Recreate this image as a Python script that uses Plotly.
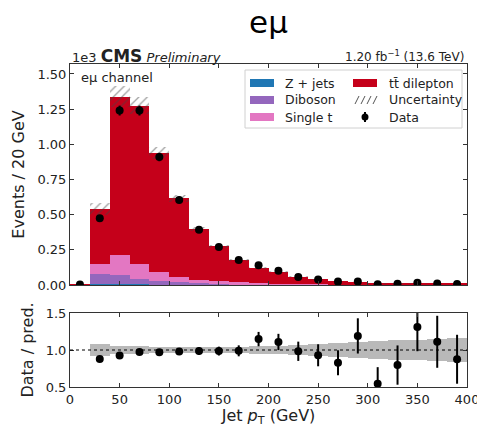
import numpy as np
import plotly.graph_objects as go

# ---- data (events per 20 GeV bin) ----
bin_edges = list(range(0, 420, 20))
zjets    = [1, 8, 6, 4, 3, 2, 2, 1, 1, 1, 1, 0.5, 0.5, 0.4, 0.3, 0.2, 0.2, 0.2, 0.1, 0.1]
diboson  = [1, 68, 64, 36, 25, 16, 10, 7, 5, 4, 3, 2, 1.5, 1, 0.8, 0.5, 0.5, 0.4, 0.3, 0.3]
single_t = [1, 76, 144, 108, 65, 39, 25, 17, 12, 9, 6, 4, 3, 2, 1.5, 1, 1, 0.8, 0.6, 0.5]
ttbar    = [2, 388, 1124, 1128, 845, 560, 361, 249, 162, 108, 82, 51.5, 37, 25.6, 18.4, 9.3, 9.6, 10.8, 8, 7.1]
data     = [4, 475, 1240, 1240, 910, 605, 392, 270, 178, 140, 102, 57, 39, 24, 25, 6, 9, 16, 10, 7]
rel_unc  = [0.10, 0.08, 0.055, 0.05, 0.045, 0.04, 0.04, 0.04, 0.045, 0.05, 0.06, 0.07, 0.08, 0.09,
            0.11, 0.12, 0.13, 0.14, 0.15, 0.16]

edges = np.array(bin_edges, dtype=float)
centers = 0.5 * (edges[:-1] + edges[1:])
widths = np.diff(edges)
scale = 1e3

comps = [("Z + jets", zjets, "#1f77b4"),
         ("Diboson", diboson, "#9467bd"),
         ("Single t", single_t, "#e377c2"),
         ("tt̄ dilepton", ttbar, "#c5001a")]

total = np.sum([np.array(c[1], float) for c in comps], axis=0)
unc = np.array(rel_unc) * total
d = np.array(data, float)
derr = np.sqrt(d)

fig = go.Figure()
for name, vals, col in comps:
    fig.add_trace(go.Bar(x=centers, y=np.array(vals) / scale, width=widths, name=name,
                         marker=dict(color=col, line=dict(width=0)), showlegend=False,
                         xaxis="x", yaxis="y"))
# uncertainty hatch
fig.add_trace(go.Bar(x=centers, y=2 * unc / scale, base=(total - unc) / scale, width=widths,
                     marker=dict(color="rgba(0,0,0,0)", line=dict(width=0),
                                 pattern=dict(shape="/", fgcolor="#444", size=6, solidity=0.22)),
                     showlegend=False, xaxis="x", yaxis="y"))
fig.add_trace(go.Scatter(x=centers, y=d / scale, mode="markers",
                         marker=dict(color="black", size=8),
                         error_y=dict(type="data", array=derr / scale, color="black", thickness=2, width=0),
                         showlegend=False, xaxis="x", yaxis="y"))

# ratio panel
mask = slice(1, None)
fig.add_trace(go.Bar(x=centers[mask], y=2 * np.array(rel_unc)[mask], base=1 - np.array(rel_unc)[mask],
                     width=widths[mask], marker=dict(color="#b9b9b9", line=dict(width=0)),
                     showlegend=False, xaxis="x2", yaxis="y2"))
ratio = d / total
rerr = derr / total
fig.add_trace(go.Scatter(x=centers[mask], y=ratio[mask], mode="markers",
                         marker=dict(color="black", size=8),
                         error_y=dict(type="data", array=rerr[mask], color="black", thickness=2, width=0),
                         showlegend=False, xaxis="x2", yaxis="y2", cliponaxis=True))

W, H = 477, 427
ml, mr, mt, mb = 70, 10, 64, 40
pw, ph = W - ml - mr, H - mt - mb
def px(x): return (x - ml) / pw
def py(y): return (H - mb - y) / ph

font = "DejaVu Sans"
axcol = "#333"
common_x = dict(range=[0, 400], tickvals=list(range(0, 401, 50)), ticks="inside", ticklen=4,
                showline=True, linecolor=axcol, linewidth=1, mirror="allticks", tickcolor=axcol,
                showgrid=False, zeroline=False, ticklabeloverflow="allow", automargin=False)
common_y = dict(ticks="inside", ticklen=4, showline=True, linecolor=axcol, mirror="allticks",
                tickcolor=axcol, showgrid=False, zeroline=False, automargin=False)
fig.update_layout(
    width=W, height=H, margin=dict(l=ml, r=mr, t=mt, b=mb, autoexpand=False),
    paper_bgcolor="white", plot_bgcolor="white", barmode="stack", bargap=0,
    font=dict(family=font, size=13, color="#222"),
    title=dict(text="eμ", x=0.5, xref="paper", y=1 - 22 / H, yanchor="middle",
               font=dict(size=31, color="black", family=font)),
    xaxis=dict(domain=[0, 1], anchor="y", showticklabels=False, matches="x2", **common_x),
    yaxis=dict(domain=[py(285), 1], range=[0, 1.571], tickvals=[0, 0.25, 0.5, 0.75, 1.0, 1.25, 1.5],
               tickformat=".2f", title=dict(text="Events / 20 GeV", standoff=8), **common_y),
    xaxis2=dict(domain=[0, 1], anchor="y2", title=dict(text="Jet <i>p</i><sub>T</sub> (GeV)", standoff=4),
                **common_x),
    yaxis2=dict(domain=[0, py(313)], range=[0.5, 1.5], tickvals=[0.5, 1.0, 1.5], tickformat=".1f",
                title=dict(text="Data / pred.", standoff=8), **common_y),
)

fig.add_shape(type="line", xref="x2", yref="y2", x0=0, x1=400, y0=1, y1=1,
              line=dict(color="black", width=1, dash="dot"))

ann = []
ann.append(dict(text="1e3 <span style='font-size:17px'><b>CMS</b></span> <i>Preliminary</i>",
                x=px(70), y=py(56), xanchor="left", yanchor="middle", font=dict(size=13, color="#222")))
ann.append(dict(text="1.20 fb<sup>−1</sup> (13.6 TeV)", x=px(466), y=py(56), xanchor="right",
                yanchor="middle", font=dict(size=12, color="#222")))
ann.append(dict(text="eμ channel", x=px(79), y=py(78), xanchor="left", yanchor="middle",
                font=dict(size=13, color="#222")))

# manual legend
shapes = []
shapes.append(dict(type="rect", xref="paper", yref="paper", x0=px(245), x1=px(462), y0=py(128), y1=py(70),
                   line=dict(color="#d0d0d0", width=1), fillcolor="rgba(255,255,255,0.85)"))
rows = [83, 100, 117]
col1 = [("Z + jets", "#1f77b4"), ("Diboson", "#9467bd"), ("Single t", "#e377c2")]
for (lab, c), yy in zip(col1, rows):
    shapes.append(dict(type="rect", xref="paper", yref="paper", x0=px(250), x1=px(274),
                       y0=py(yy + 4), y1=py(yy - 4), line=dict(width=0), fillcolor=c))
    ann.append(dict(text=lab, x=px(283), y=py(yy), xanchor="left", yanchor="middle",
                    font=dict(size=12.5, color="#222")))
# ttbar
shapes.append(dict(type="rect", xref="paper", yref="paper", x0=px(353), x1=px(377),
                   y0=py(rows[0] + 4), y1=py(rows[0] - 4), line=dict(width=0), fillcolor="#c5001a"))
ann.append(dict(text="tt̄ dilepton", x=px(387), y=py(rows[0]), xanchor="left", yanchor="middle",
                font=dict(size=12.5, color="#222")))
# uncertainty sample
for k in range(4):
    x0 = 355 + k * 6
    shapes.append(dict(type="line", xref="paper", yref="paper", x0=px(x0), x1=px(x0 + 4),
                       y0=py(rows[1] + 4), y1=py(rows[1] - 4), line=dict(color="#555", width=1)))
ann.append(dict(text="Uncertainty", x=px(387), y=py(rows[1]), xanchor="left", yanchor="middle",
                font=dict(size=12.5, color="#222")))
# data sample
shapes.append(dict(type="line", xref="paper", yref="paper", x0=px(365), x1=px(365),
                   y0=py(rows[2] + 5), y1=py(rows[2] - 5), line=dict(color="black", width=2)))
shapes.append(dict(type="circle", xref="paper", yref="paper", x0=px(361.5), x1=px(368.5),
                   y0=py(rows[2] + 3.5), y1=py(rows[2] - 3.5), line=dict(width=0), fillcolor="black"))
ann.append(dict(text="Data", x=px(387), y=py(rows[2]), xanchor="left", yanchor="middle",
                font=dict(size=12.5, color="#222")))

for a in ann:
    a.update(xref="paper", yref="paper", showarrow=False)
fig.update_layout(annotations=ann, shapes=fig.layout.shapes + tuple(shapes))

fig.write_html("out.html")
